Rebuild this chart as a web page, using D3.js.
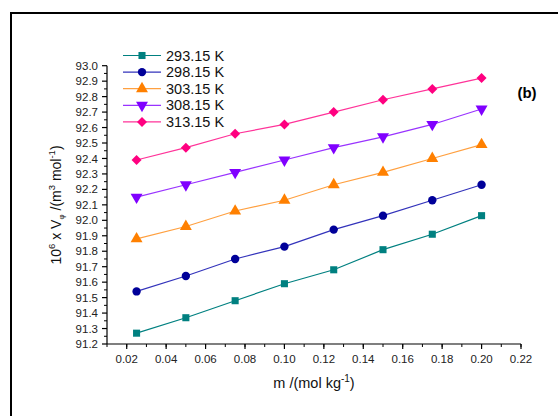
<!DOCTYPE html>
<html><head><meta charset="utf-8">
<script src="https://cdn.jsdelivr.net/npm/d3@7"></script>
<style>body{margin:0;background:#fff}svg{display:block;font-family:"Liberation Sans",Arial,sans-serif}</style>
</head><body>
<svg id="c" width="558" height="416"></svg>
<script>
const mValues = [0.025, 0.05, 0.075, 0.10, 0.125, 0.15, 0.175, 0.20];
const seriesNames = ["293.15 K", "298.15 K", "303.15 K", "308.15 K", "313.15 K"];
const v293 = [91.27, 91.37, 91.48, 91.59, 91.68, 91.81, 91.91, 92.03];
const v298 = [91.54, 91.64, 91.75, 91.83, 91.94, 92.03, 92.13, 92.23];
const v303 = [91.88, 91.96, 92.06, 92.13, 92.23, 92.31, 92.40, 92.49];
const v308 = [92.15, 92.23, 92.31, 92.39, 92.47, 92.54, 92.62, 92.72];
const v313 = [92.39, 92.47, 92.56, 92.62, 92.70, 92.78, 92.85, 92.92];
const xTicks = [0.02, 0.04, 0.06, 0.08, 0.10, 0.12, 0.14, 0.16, 0.18, 0.20, 0.22];
const yTicks = [91.2,91.3,91.4,91.5,91.6,91.7,91.8,91.9,92.0,92.1,92.2,92.3,92.4,92.5,92.6,92.7,92.8,92.9,93.0];

const allValues = [v293, v298, v303, v308, v313];
const colors = ["#008080", "#000099", "#FF8000", "#8000FF", "#FF0080"];
const lineColors = ["#008080", "#3333BB", "#FFA040", "#9933FF", "#FF3399"];

const svg = d3.select("#c");
// frame
svg.append("path").attr("d","M11,558 L11,13 L558,13").attr("fill","none").attr("stroke","#000").attr("stroke-width",2);

const x = d3.scaleLinear().domain([0.01, 0.22]).range([107, 521]);
const y = d3.scaleLinear().domain([91.2, 93.0]).range([344, 65.7]);

// x axis
const gx = svg.append("g").attr("transform","translate(0,344)");
gx.append("line").attr("x1",107).attr("x2",521).attr("stroke","#000").attr("stroke-width",1.2);
const xMinor = d3.range(0.01, 0.2201, 0.01);
gx.selectAll(".xm").data(xMinor).join("line").attr("x1",d=>x(d)).attr("x2",d=>x(d)).attr("y1",0).attr("y2",3).attr("stroke","#000").attr("stroke-width",1);
gx.selectAll(".xM").data(xTicks).join("line").attr("x1",d=>x(d)).attr("x2",d=>x(d)).attr("y1",0).attr("y2",5).attr("stroke","#000").attr("stroke-width",1.2);
gx.selectAll(".xl").data(xTicks).join("text").attr("x",d=>x(d)).attr("y",19).attr("text-anchor","middle").attr("font-size",11.5).attr("fill","#222").text(d=>d.toFixed(2));

// y axis
const gy = svg.append("g").attr("transform","translate(107,0)");
gy.append("line").attr("y1",y(91.2)).attr("y2",y(93.0)).attr("stroke","#000").attr("stroke-width",1.2);
const yMinor = d3.range(91.25, 93.0, 0.1);
gy.selectAll(".ym").data(yMinor).join("line").attr("y1",d=>y(d)).attr("y2",d=>y(d)).attr("x1",0).attr("x2",-3).attr("stroke","#000").attr("stroke-width",1);
gy.selectAll(".yM").data(yTicks).join("line").attr("y1",d=>y(d)).attr("y2",d=>y(d)).attr("x1",0).attr("x2",-5).attr("stroke","#000").attr("stroke-width",1.2);
gy.selectAll(".yl").data(yTicks).join("text").attr("x",-9).attr("y",d=>y(d)+4.1).attr("text-anchor","end").attr("font-size",11.5).attr("fill","#222").text(d=>d.toFixed(1));

const sq = d3.symbol().type(d3.symbolSquare).size(50)();
const circ = d3.symbol().type(d3.symbolCircle).size(55)();
const tri = d3.symbol().type(d3.symbolTriangle).size(62)();
const dia = d3.symbol().type(d3.symbolSquare).size(50)();
const symDefs = [[sq,""],[circ,""],[tri,""],[tri," rotate(180)"],[dia," rotate(45)"]];

const line = d3.line().x((d,i)=>x(mValues[i])).y(d=>y(d));
allValues.forEach((vals,i)=>{
  svg.append("path").attr("d",line(vals)).attr("fill","none").attr("stroke",lineColors[i]).attr("stroke-width",1.2);
  svg.selectAll(".p"+i).data(vals).join("path").attr("d",symDefs[i][0])
    .attr("transform",(d,j)=>`translate(${x(mValues[j])},${y(d)})${symDefs[i][1]}`)
    .attr("fill",colors[i]);
});

// legend
const lg = svg.append("g");
seriesNames.forEach((n,i)=>{
  const yy = 55.5 + i*16.6;
  lg.append("line").attr("x1",123).attr("x2",161).attr("y1",yy).attr("y2",yy).attr("stroke",lineColors[i]).attr("stroke-width",1.2);
  lg.append("path").attr("d",symDefs[i][0]).attr("transform",`translate(142,${yy})${symDefs[i][1]}`).attr("fill",colors[i]);
  lg.append("text").attr("x",166).attr("y",yy+5).attr("font-size",14.5).attr("fill","#111").text(n);
});

// panel label
svg.append("text").attr("x",527).attr("y",98).attr("text-anchor","middle").attr("font-size",15).attr("font-weight","bold").text("(b)");

// x title
const xt = svg.append("text").attr("x",314).attr("y",388).attr("text-anchor","middle").attr("font-size",14.5).attr("fill","#111");
xt.append("tspan").text("m /(mol kg");
xt.append("tspan").attr("dy",-6).attr("font-size",10).text("-1");
xt.append("tspan").attr("dy",6).text(")");

// y title
const yt = svg.append("text").attr("transform","translate(61,205) rotate(-90)").attr("text-anchor","middle").attr("font-size",14).attr("fill","#111");
yt.append("tspan").text("10");
yt.append("tspan").attr("dy",-6).attr("font-size",9.5).text("6");
yt.append("tspan").attr("dy",6).text(" x V");
yt.append("tspan").attr("dy",3).attr("font-size",8).text("\u03C6");
yt.append("tspan").attr("dy",-3).text(" /(m");
yt.append("tspan").attr("dy",-6).attr("font-size",9.5).text("3");
yt.append("tspan").attr("dy",6).text(" mol");
yt.append("tspan").attr("dy",-6).attr("font-size",9.5).text("-1");
yt.append("tspan").attr("dy",6).text(")");
</script>
</body></html>
